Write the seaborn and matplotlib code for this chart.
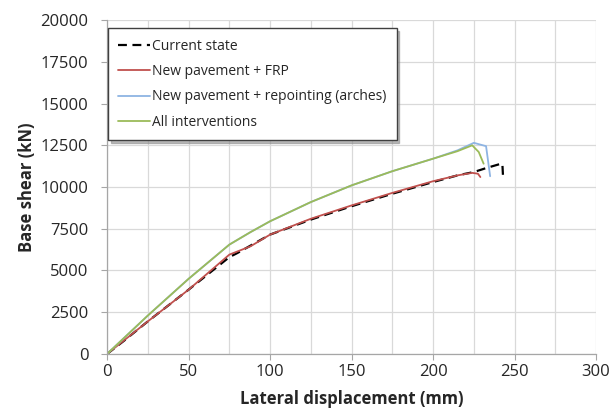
import numpy as np
import pandas as pd
import matplotlib
matplotlib.use("Agg")
import matplotlib.pyplot as plt
import seaborn as sns
from matplotlib.ticker import MultipleLocator

# Pushover curves (displacement in mm, base shear in kN)
disp_current = [0, 10, 25, 50, 75, 80, 100, 125, 150, 175, 200, 215, 225, 233, 240, 242.5, 243]
shear_current = [0, 760, 1950, 3850, 5800, 6050, 7150, 8050, 8850, 9600, 10300, 10700, 10900, 11150, 11350, 11400, 10450]

disp_frp = [0, 10, 25, 50, 75, 88, 100, 125, 150, 175, 200, 215, 224, 227.5, 229]
shear_frp = [0, 780, 1950, 3850, 5950, 6450, 7150, 8100, 8900, 9650, 10350, 10700, 10850, 10800, 10600]

disp_repoint = [0, 25, 50, 75, 88, 100, 125, 150, 175, 200, 215, 225, 232.5, 235]
shear_repoint = [0, 2300, 4500, 6550, 7300, 7950, 9100, 10100, 10950, 11700, 12200, 12650, 12450, 10650]

disp_all = [0, 25, 50, 75, 88, 100, 125, 150, 175, 200, 215, 224, 228, 231]
shear_all = [0, 2300, 4500, 6550, 7300, 7950, 9100, 10100, 10950, 11700, 12150, 12500, 12100, 11400]

series = [
    ("Current state", disp_current, shear_current, "black", (0, (4, 2.5)), 1.6),
    ("New pavement + FRP", disp_frp, shear_frp, "#C0504D", "-", 1.3),
    ("New pavement + repointing (arches)", disp_repoint, shear_repoint, "#8EB4E3", "-", 1.3),
    ("All interventions", disp_all, shear_all, "#9BBB59", "-", 1.3),
]

sns.set_style("white")
plt.rcParams["font.family"] = ["Open Sans", "DejaVu Sans"]

fig = plt.figure(figsize=(6.12, 4.12), dpi=100)
ax = fig.add_axes([0.175, 0.141, 0.799, 0.810])

for name, x, y, color, ls, lw in series:
    df = pd.DataFrame({"disp": x, "shear": y})
    sns.lineplot(data=df, x="disp", y="shear", ax=ax, sort=False, color=color,
                 linestyle=ls, linewidth=lw, label=name, estimator=None)

ax.set_xlim(0, 300)
ax.set_ylim(0, 20000)
ax.xaxis.set_major_locator(MultipleLocator(50))
ax.xaxis.set_minor_locator(MultipleLocator(25))
ax.yaxis.set_major_locator(MultipleLocator(2500))
ax.grid(which="both", axis="x", color="#D9D9D9", linewidth=0.9)
ax.grid(which="major", axis="y", color="#D9D9D9", linewidth=0.9)
ax.set_axisbelow(True)

for side in ["top", "right"]:
    ax.spines[side].set_visible(False)
for side in ["left", "bottom"]:
    ax.spines[side].set_color("#A6A6A6")
    ax.spines[side].set_linewidth(0.9)

ax.tick_params(axis="both", which="major", labelsize=12, colors="#A6A6A6",
               labelcolor="#262626", length=4.5, width=0.8, direction="out",
               bottom=True, left=True)
ax.tick_params(axis="y", which="major", pad=9)
ax.tick_params(axis="x", which="major", pad=3)
ax.tick_params(axis="x", which="minor", length=0)

ax.set_xlabel("Lateral displacement (mm)", fontsize=12, fontweight="bold")
ax.xaxis.set_label_coords(0.5, -0.108)
ax.set_ylabel("Base shear (kN)", fontsize=12, fontweight="bold", labelpad=3)

leg = ax.legend(loc="upper left", bbox_to_anchor=(0.002, 0.976), borderaxespad=0,
                fontsize=10, frameon=True, fancybox=False,
                shadow={"color": "0.55", "alpha": 0.6}, handlelength=2.3,
                handletextpad=0.1, labelspacing=0.75, borderpad=0.75)
leg.get_frame().set_edgecolor("#404040")
leg.get_frame().set_linewidth(1.0)

fig.savefig("out.png", dpi=100)
